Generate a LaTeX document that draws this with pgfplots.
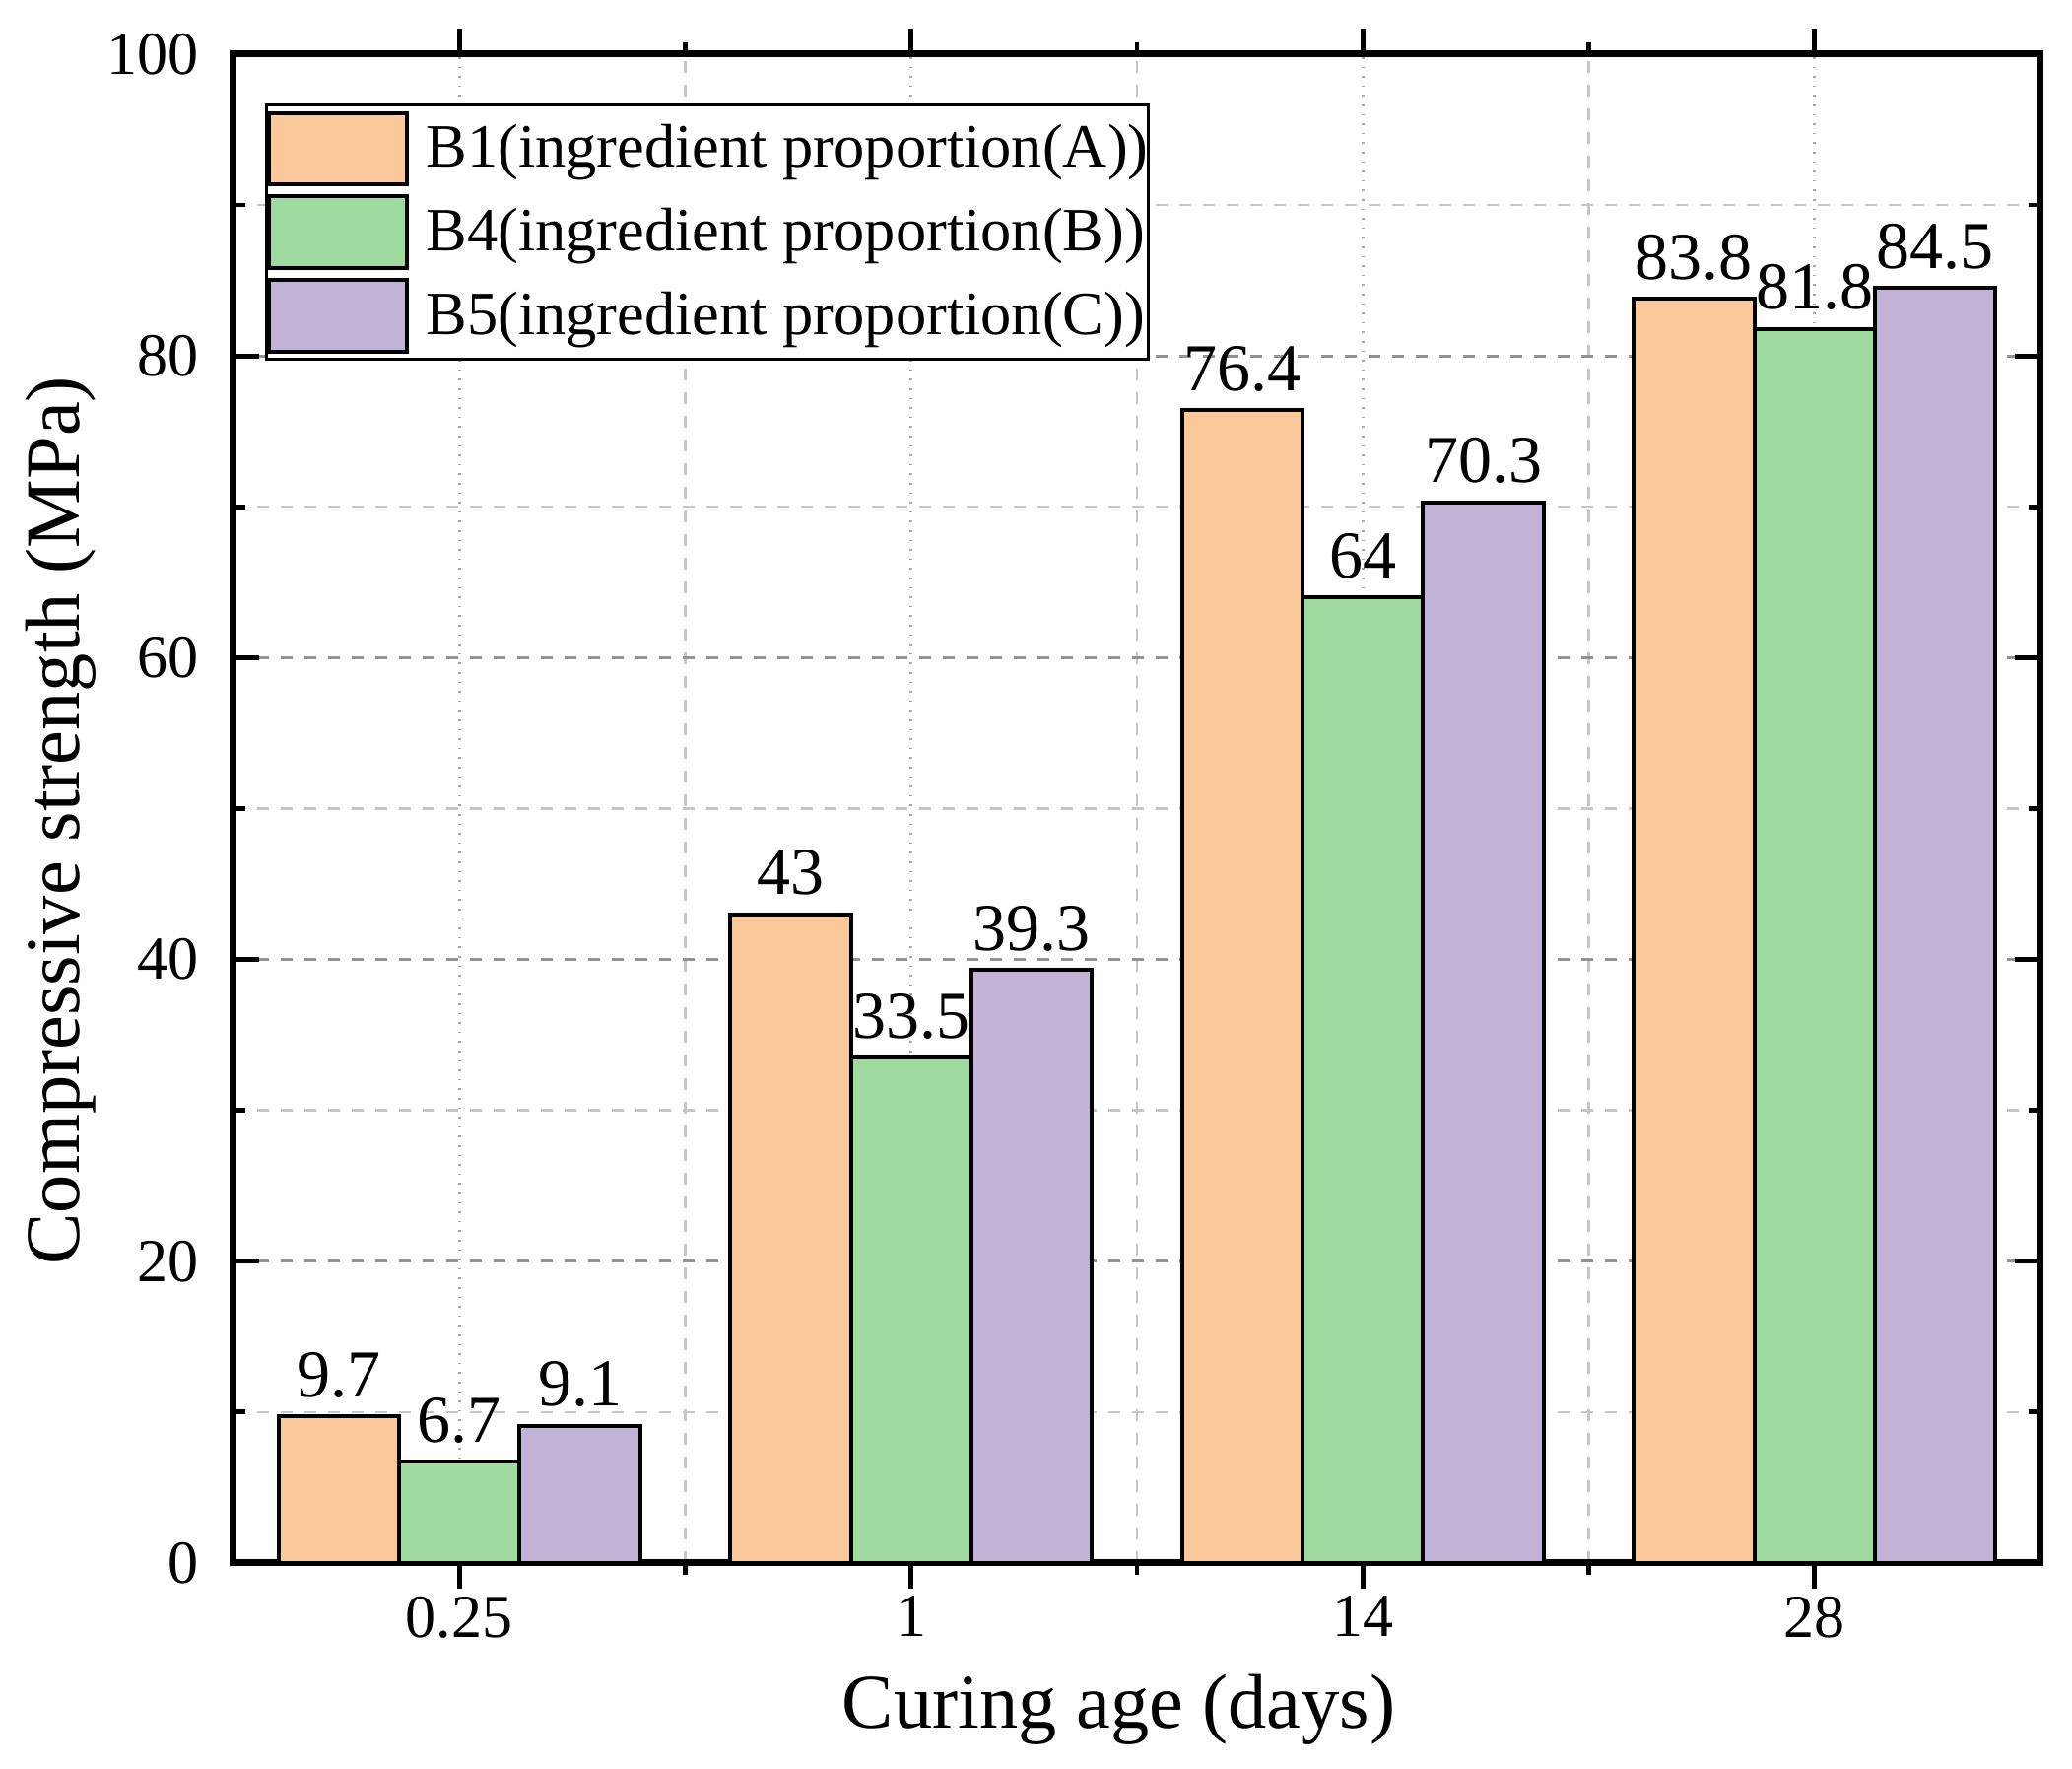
\documentclass[border=0pt]{standalone}
\usepackage{fontspec}
\setmainfont{Liberation Serif}
\usepackage{pgfplots}
\pgfplotsset{compat=1.18}
\definecolor{cA}{RGB}{251,201,153}
\definecolor{cB}{RGB}{158,217,158}
\definecolor{cC}{RGB}{194,178,214}
\begin{document}
\begin{tikzpicture}
\begin{axis}[
  scale only axis,
  width=458.5pt, height=382.75pt,
  xmin=-0.5, xmax=3.5, ymin=0, ymax=100,
  xtick={0,1,2,3}, xticklabels={0.25,1,14,28},
  minor x tick num=1,
  ytick={0,20,40,60,80,100}, minor y tick num=1,
  ybar=0pt, bar width=0.267,
  axis line style={line width=1.75pt},
  tick style={black, line width=1.2pt},
  major tick length=6.5pt, minor tick length=3pt,
  xmajorgrids, xminorgrids, ymajorgrids, yminorgrids,
  major x grid style={gray!70, dotted, line width=0.8pt},
  minor x grid style={gray!45, dashed, line width=0.6pt},
  major y grid style={gray!85, dashed, line width=0.8pt},
  minor y grid style={gray!45, dashed, line width=0.6pt},
  /pgf/number format/assume math mode=true,
  ticklabel style={font=\fontsize{15.5}{18}\selectfont},
  yticklabel style={anchor=east, inner sep=0pt, xshift=-8.75pt},
  xticklabel style={anchor=north, inner sep=0pt},
  xticklabel shift=1.75pt,
  xlabel={Curing age (days)},
  ylabel={Compressive strength (MPa)},
  every axis x label/.style={at={(axis description cs:0.490,-0.1091)}, anchor=base, font=\fontsize{19.6}{24}\selectfont},
  every axis y label/.style={at={(axis description cs:-0.0856,0.492)}, rotate=90, anchor=base, font=\fontsize{19.6}{24}\selectfont},
  nodes near coords,
  every node near coord/.append style={font=\fontsize{17}{20}\selectfont, anchor=south, inner sep=0pt, yshift=4.25pt, black},
  legend style={at={(0.01745,0.9673)}, anchor=north west, draw=black, line width=0.75pt,
    inner xsep=0pt, inner ysep=1.5pt, row sep=2pt, column sep=4.5pt,
    font=\fontsize{15.6}{18}\selectfont, nodes={inner sep=0pt}, cells={anchor=west}},
  legend cell align=left,
  legend image code/.code={\draw[#1, line width=1pt] (0pt,-9.1pt) rectangle (35pt,9.1pt);},
]
\addplot[fill=cA, draw=black, line width=1pt, bar shift=-0.267] coordinates {(0,9.7) (1,43) (2,76.4) (3,83.8)};
\addplot[fill=cB, draw=black, line width=1pt, bar shift=0] coordinates {(0,6.7) (1,33.5) (2,64) (3,81.8)};
\addplot[fill=cC, draw=black, line width=1pt, bar shift=0.267] coordinates {(0,9.1) (1,39.3) (2,70.3) (3,84.5)};
\legend{B1(ingredient proportion(A)),B4(ingredient proportion(B)),B5(ingredient proportion(C))}
\end{axis}
\pgfresetboundingbox
\path (-59.25pt,-52.25pt) rectangle (466.5pt,396.5pt);
\end{tikzpicture}
\end{document}
